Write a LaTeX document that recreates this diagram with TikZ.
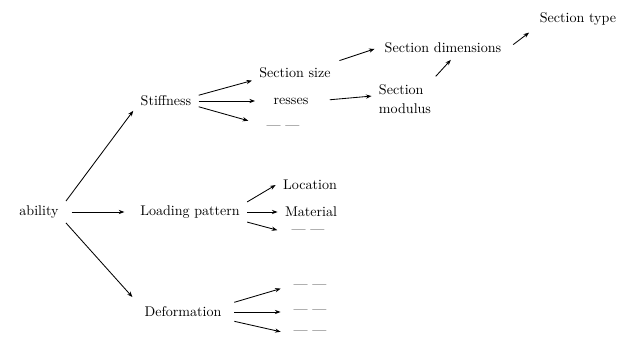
\documentclass[tikz,border=0pt]{standalone}
\usetikzlibrary{arrows.meta}
\begin{document}
\begin{tikzpicture}[x=0.025cm,y=-0.025cm,>={Stealth[length=4pt,width=3pt]},
		every node/.style={inner xsep=5pt,inner ysep=3pt},
		every path/.style={line width=0.6pt}]
		\useasboundingbox (0,0) rectangle (621,341);
		\node (stab) at (39,212) {ability};
		\node (stiff) at (166,101) {Stiffness};
		\node (load) at (190,212) {Loading pattern};
		\node (deform) at (183,312) {Deformation};
		\node (ssize) at (295,73) {Section size};
		\node (stres) at (291,101) {resses};
		\node (sdash) at (283,128) {--- ---};
		\node[align=left] (smod) at (405,99) {Section\\[2pt]modulus};
		\node (sdim) at (443,48) {Section dimensions};
		\node (stype) at (578,19) {Section type};
		\node (loc) at (310,185) {Location};
		\node (mat) at (311,212) {Material};
		\node (ldash) at (308,232) {--- ---};
		\node (ddash0) at (310,287) {--- ---};
		\node (ddash1) at (310,312) {--- ---};
		\node (ddash2) at (310,333) {--- ---};
		\draw [->] (stab.north east) -- (stiff.south west);
		\draw [->,shorten <=4pt,shorten >=6pt] (stab.east) -- (load.west);
		\draw [->,shorten >=5pt] (stab.south east) -- (deform.north west);
		\draw [->] (stiff.10) -- (ssize.190);
		\draw [->,shorten >=8pt] (stiff.east) -- (stres.west);
		\draw [->,shorten >=8pt] (stiff.-10) -- (sdash.170);
		\draw [->,shorten <=6pt,shorten >=2pt] (ssize.15) -- (sdim.west);
		\draw [->,shorten <=10pt] (stres.east) -- (smod.175);
		\draw [->,shorten <=3pt,shorten >=2pt] (smod.35) -- (sdim.-45);
		\draw [->,shorten <=4pt,shorten >=3pt] (sdim.east) -- (stype.south west);
		\draw [->] (load.10) -- (loc.west);
		\draw [->] (load.east) -- (mat.west);
		\draw [->,shorten >=5pt] (load.-10) -- (ldash.west);
		\draw [->,shorten <=4pt,shorten >=4pt] (deform.10) -- (ddash0.west);
		\draw [->,shorten <=4pt,shorten >=4pt] (deform.east) -- (ddash1.west);
		\draw [->,shorten <=4pt,shorten >=4pt] (deform.-10) -- (ddash2.west);
	\end{tikzpicture}
\end{document}
